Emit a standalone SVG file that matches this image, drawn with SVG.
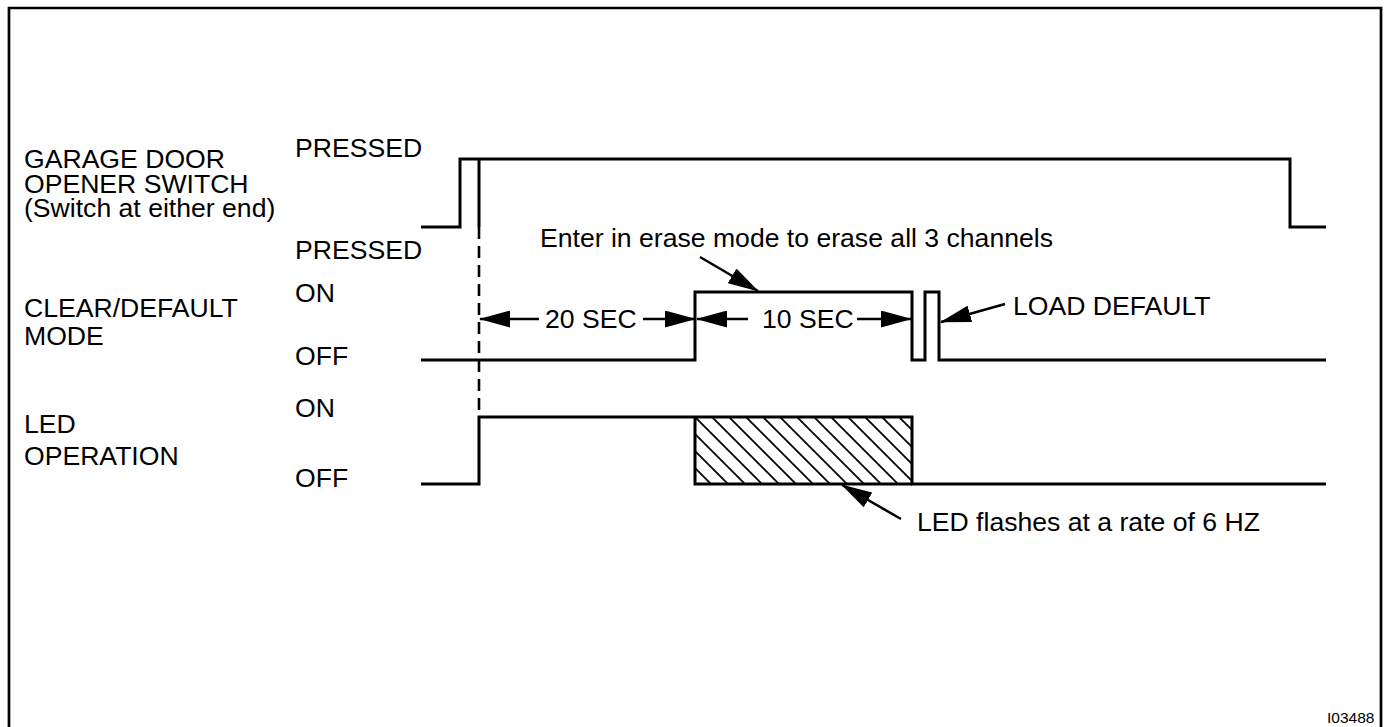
<svg xmlns="http://www.w3.org/2000/svg" width="1390" height="727" viewBox="0 0 1390 727">
<style>
  text { font-family: "Liberation Sans", Arial, sans-serif; font-size: 26.6px; fill: #000; }
  .id { font-size: 15.5px; }
  .wave { fill: none; stroke: #000; stroke-width: 3; stroke-linejoin: miter; }
  .frame { fill: none; stroke: #000; stroke-width: 2.7; }
  .dash { fill: none; stroke: #000; stroke-width: 2.6; stroke-dasharray: 12 7; }
  .arrow { fill: none; stroke: #000; stroke-width: 2.5; marker-end: url(#head); }
  .hatchline { stroke: #000; stroke-width: 1.8; }
</style>
<defs>
  <marker id="head" markerUnits="userSpaceOnUse" markerWidth="31" markerHeight="17" viewBox="0 0 31 17" refX="30" refY="8.5" orient="auto">
    <path d="M0,0 L31,8.5 L0,17 Z" fill="#000"/>
  </marker>
  <pattern id="hatch" patternUnits="userSpaceOnUse" x="695" y="417" width="17" height="17">
    <path class="hatchline" d="M0,0 L17,17 M-2,15 L2,19 M15,-2 L19,2"/>
  </pattern>
</defs>

<path class="frame" d="M9,727 V8 H1381 V727"/>

<g id="labels">
  <text x="24" y="168">GARAGE DOOR</text>
  <text x="24" y="193">OPENER SWITCH</text>
  <text x="24" y="217">(Switch at either end)</text>
  <text x="24" y="317">CLEAR/DEFAULT</text>
  <text x="24" y="345">MODE</text>
  <text x="24" y="433">LED</text>
  <text x="24" y="465">OPERATION</text>
</g>

<g id="states">
  <text x="295" y="157">PRESSED</text>
  <text x="295" y="259">PRESSED</text>
  <text x="295" y="302">ON</text>
  <text x="295" y="365">OFF</text>
  <text x="295" y="417">ON</text>
  <text x="295" y="487">OFF</text>
</g>

<g id="garage-switch">
  <path class="wave" d="M421,227 H460 V159 H1290 V227 H1326"/>
  <path class="wave" d="M479,159 V227"/>
</g>

<g id="clear-default">
  <path class="wave" d="M421,360 H695 V292 H912 V360 H925 V292 H939 V360 H1326"/>
</g>

<g id="led-operation">
  <rect x="695" y="417" width="217" height="67" fill="url(#hatch)"/>
  <path class="wave" d="M421,484 H479 V417 H912 V484 H1326"/>
  <path class="wave" d="M695,417 V484 H912"/>
</g>

<g id="connectors">
  <path class="dash" d="M479,227 V417"/>
  <path class="arrow" d="M539,319 H480"/>
  <path class="arrow" d="M643,319 H695"/>
  <path class="arrow" d="M748,319 H697"/>
  <path class="arrow" d="M857,319 H911"/>
  <path class="arrow" d="M700,257 L758,291"/>
  <path class="arrow" d="M1005,304 L941,322"/>
  <path class="arrow" d="M901,519 L842,485"/>
</g>

<g id="annotations">
  <text x="545" y="328">20 SEC</text>
  <text x="762" y="328">10 SEC</text>
  <text x="540" y="247">Enter in erase mode to erase all 3 channels</text>
  <text x="1013" y="315">LOAD DEFAULT</text>
  <text x="917" y="531">LED flashes at a rate of 6 HZ</text>
  <text class="id" x="1327" y="723">I03488</text>
</g>
</svg>
